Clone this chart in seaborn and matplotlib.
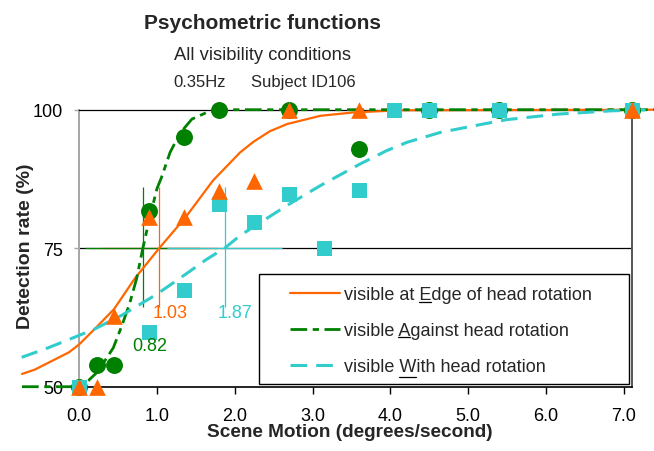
import matplotlib
matplotlib.use("Agg")
import matplotlib.pyplot as plt
import seaborn as sns
from matplotlib import font_manager as fm
from matplotlib.patches import Rectangle
from matplotlib.lines import Line2D

# ---------------- data ----------------
edge_x = [0.0, 0.225, 0.45, 0.9, 1.35, 1.8, 2.25, 2.7, 3.6, 7.1]
edge_y = [50, 50, 62.8, 80.6, 80.7, 85.4, 87.2, 100, 100, 100]

against_x = [0.0, 0.225, 0.45, 0.9, 1.35, 1.8, 2.7, 3.6, 4.5, 5.4, 7.1]
against_y = [50, 54.0, 54.0, 81.8, 95.0, 100, 100, 92.9, 100, 100, 100]

with_x = [0.0, 0.9, 1.35, 1.8, 2.25, 2.7, 3.15, 3.6, 4.05, 4.5, 5.4, 7.1]
with_y = [50, 59.9, 67.5, 83.0, 79.8, 84.8, 75.0, 85.5, 100, 100, 100, 100]

# fitted curves
edge_fit_x = [-0.732, -0.565, -0.13, 0.0, 0.2, 0.45, 0.72, 1.03, 1.37, 1.72,
              2.07, 2.24, 2.45, 2.67, 3.10, 3.52, 4.12, 7.385]
edge_fit_y = [52.3, 53.1, 56.2, 57.6, 60.4, 64.0, 69.6, 75.0, 80.6, 87.2,
              92.3, 94.2, 96.1, 97.4, 98.9, 99.5, 99.9, 100]

against_fit_x = [-0.732, 0.0, 0.12, 0.24, 0.44, 0.55, 0.65, 0.74, 0.82, 0.90,
                 1.00, 1.06, 1.17, 1.30, 1.45, 1.64, 1.8, 7.385]
against_fit_y = [50, 50, 51.1, 52.7, 57.0, 61.0, 65.0, 69.5, 75.0, 80.0,
                 85.7, 87.8, 92.3, 95.8, 98.3, 99.5, 100, 100]

with_fit_x = [-0.736, -0.4, -0.15, 0.2, 0.55, 1.0, 1.4, 1.64, 1.87, 2.07, 2.67,
              3.10, 3.61, 3.95, 4.21, 4.64, 5.15, 5.49, 6.15, 6.84, 7.385]
with_fit_y = [55.3, 57.0, 58.4, 60.4, 62.9, 66.7, 70.6, 73.0, 75.0, 77.3, 82.7,
              86.3, 90.2, 92.6, 94.1, 95.9, 97.3, 98.2, 99.2, 99.8, 100]

thresholds = [1.03, 0.82, 1.87]          # edge, against, with
threshold_labels = ["1.03", "0.82", "1.87"]

series_labels = ["visible at Edge of head rotation",
                 "visible Against head rotation",
                 "visible With head rotation"]
# (prefix, underlined letter) inside each legend label
underlined = [("visible at ", "E"), ("visible ", "A"), ("visible ", "W")]

x_ticks = [0, 1, 2, 3, 4, 5, 6, 7]
x_tick_labels = ["0.0", "1.0", "2.0", "3.0", "4.0", "5.0", "6.0", "7.0"]
y_ticks = [50, 75, 100]
y_tick_labels = ["50", "75", "100"]

# ---------------- style ----------------
ORANGE = "#FF6600"
GREEN = "#008000"
CYAN = "#33CCCC"

sns.set_style("white")
plt.rcParams["font.family"] = ["Liberation Sans", "DejaVu Sans"]
plt.rcParams["lines.scale_dashes"] = False

W, H = 654, 452
fig = plt.figure(figsize=(W / 100, H / 100), dpi=100)
fig.patch.set_facecolor("white")

# axes placement in pixels
x_left_px, x_right_px = 22, 654
y_top_px, y_bot_px = 110.7, 387.7
ax_w = x_right_px - x_left_px
ax_h = y_bot_px - y_top_px
ax = fig.add_axes([x_left_px / W, (H - y_bot_px) / H, ax_w / W, ax_h / H])
ax.set_facecolor("white")
ax.set_xlim(-0.732, 7.385)
ax.set_ylim(50, 100)

# frame / grid
ax.hlines(75, 0, 7.1, color="black", lw=0.9, zorder=1)
for s in ["left", "right", "top", "bottom"]:
    ax.spines[s].set_visible(True)
ax.spines["left"].set_position(("data", 0))
ax.spines["left"].set_bounds(50, 100)
ax.spines["left"].set_color("#a6a6a6")
ax.spines["left"].set_linewidth(1.4)
ax.spines["right"].set_position(("data", 7.1))
ax.spines["right"].set_bounds(50, 100)
ax.spines["right"].set_color("#555555")
ax.spines["right"].set_linewidth(1.4)
ax.spines["top"].set_bounds(0, 7.1)
ax.spines["top"].set_color("black")
ax.spines["top"].set_linewidth(0.9)
ax.spines["bottom"].set_bounds(0, 7.1)
ax.spines["bottom"].set_color("black")
ax.spines["bottom"].set_linewidth(1.2)
for s in ax.spines.values():
    s.set_zorder(1)

# threshold crosses (orange, green, cyan order)
cross_colors = [ORANGE, GREEN, CYAN]
for t, c in zip(thresholds, cross_colors):
    ax.vlines(t, 64.3, 86.0, color=c, lw=0.9, zorder=2)
for t, c in zip(thresholds, cross_colors):
    ax.hlines(75, t - 0.74, t + 0.74, color=c, lw=0.9, zorder=2)

# fitted curves
sns.lineplot(x=edge_fit_x, y=edge_fit_y, ax=ax, color=ORANGE, linewidth=1.6,
             sort=False, estimator=None, clip_on=False, zorder=3)
l_edge = ax.lines[-1]
sns.lineplot(x=against_fit_x, y=against_fit_y, ax=ax, color=GREEN, linewidth=2.0,
             sort=False, estimator=None, clip_on=False, zorder=3.2,
             linestyle=(0, (12, 4, 4.5, 4)))
l_against = ax.lines[-1]
sns.lineplot(x=with_fit_x, y=with_fit_y, ax=ax, color=CYAN, linewidth=2.2,
             sort=False, estimator=None, clip_on=False, zorder=3.4,
             linestyle=(0, (12, 6.5)))
l_with = ax.lines[-1]

# markers
sns.scatterplot(x=against_x, y=against_y, ax=ax, marker="o", s=12.2 ** 2,
                color=GREEN, linewidth=0, clip_on=False, zorder=4)
sns.scatterplot(x=with_x, y=with_y, ax=ax, marker="s", s=10.8 ** 2,
                color=CYAN, linewidth=0, clip_on=False, zorder=4.1)
sns.scatterplot(x=edge_x, y=edge_y, ax=ax, marker="^", s=12.0 ** 2,
                color=ORANGE, linewidth=0, clip_on=False, zorder=4.2)

# threshold labels
ax.text(0.95, 63.4, threshold_labels[0], color=ORANGE, fontsize=13,
        ha="left", va="center", zorder=5)
ax.text(0.69, 57.35, threshold_labels[1], color=GREEN, fontsize=13,
        ha="left", va="center", zorder=5)
ax.text(1.785, 63.4, threshold_labels[2], color=CYAN, fontsize=13,
        ha="left", va="center", zorder=5)

# ticks
ax.set_xticks(x_ticks)
ax.set_xticklabels(x_tick_labels)
ax.set_yticks(y_ticks)
ax.set_yticklabels(y_tick_labels)
ax.tick_params(axis="x", bottom=True, direction="out", length=5, width=1,
               color="black", pad=9.5, labelsize=13, labelcolor="black")
ax.tick_params(axis="y", left=True, direction="out", length=3.5, width=1,
               color="#a6a6a6", pad=8, labelsize=13, labelcolor="black")
ax.grid(False)

# axis labels
ax.set_xlabel("Scene Motion (degrees/second)", fontsize=13.7, fontweight="bold")
ax.xaxis.label.set_va("baseline")
ax.xaxis.set_label_coords((350 - x_left_px) / ax_w, -(437 - y_bot_px) / ax_h)
ax.set_ylabel("Detection rate (%)", fontsize=14, fontweight="bold")
ax.yaxis.set_label_coords((33.5 - x_left_px) / ax_w, (y_bot_px - 246) / ax_h)

# legend (frame drawn as a separate box)
ax.add_patch(Rectangle((259 / W, (H - 385) / H), 370 / W, 110 / H,
                       transform=fig.transFigure, facecolor="white",
                       edgecolor="black", lw=1.0, clip_on=False, zorder=4.5))
leg = ax.legend([l_edge, l_against, l_with], series_labels,
                loc="upper left", bbox_to_anchor=(290 / W, (H - 287.5) / H),
                bbox_transform=fig.transFigure, frameon=False, borderpad=0,
                borderaxespad=0, handlelength=2.77, handletextpad=0.22,
                labelspacing=1.05, fontsize=13)
leg.set_zorder(5)

# titles
tfam = ["Liberation Sans", "DejaVu Sans"]
fig.text(262 / W, 1 - 29.3 / H, "Psychometric functions", ha="center",
         va="baseline", fontsize=15, fontweight="bold", family=tfam)
fig.text(262 / W, 1 - 60 / H, "All visibility conditions", ha="center",
         va="baseline", fontsize=13.2, family=tfam)
fig.text(199.5 / W, 1 - 87 / H, "0.35Hz", ha="center", va="baseline",
         fontsize=12, family=tfam)
fig.text(303 / W, 1 - 87 / H, "Subject ID106", ha="center", va="baseline",
         fontsize=12, family=tfam)

# underline the key letter of each legend label
fig.canvas.draw()
r = fig.canvas.get_renderer()
for txt, (prefix, letter) in zip(leg.get_texts(), underlined):
    fp = txt.get_fontproperties()
    bb = txt.get_window_extent(r)
    _, _, d_full = r.get_text_width_height_descent(txt.get_text(), fp, ismath=False)
    w_pl, _, _ = r.get_text_width_height_descent(prefix + letter, fp, ismath=False)
    w_l, _, _ = r.get_text_width_height_descent(letter, fp, ismath=False)
    x1 = bb.x0 + w_pl
    x0 = x1 - w_l
    base = bb.y0 + d_full
    yu = base - 2.0
    fig.add_artist(Line2D([x0 / W, x1 / W], [yu / H, yu / H],
                          transform=fig.transFigure, color="black", lw=0.9,
                          zorder=6))

fig.savefig("out.png", dpi=100, facecolor="white")
